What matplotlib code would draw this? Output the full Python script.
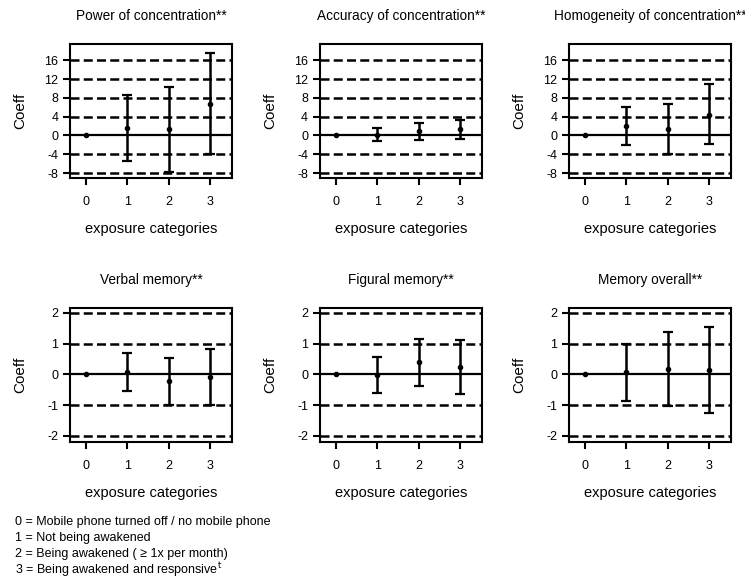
import numpy as np
import matplotlib
matplotlib.use("Agg")
import matplotlib.pyplot as plt

plt.rcParams['font.family'] = ['Liberation Sans', 'DejaVu Sans']
plt.rcParams['axes.unicode_minus'] = False

categories = [0, 1, 2, 3]

titles = ["Power of concentration**", "Accuracy of concentration**",
          "Homogeneity of concentration**", "Verbal memory**",
          "Figural memory**", "Memory overall**"]

# point estimates and confidence limits per exposure category
coef = [[0, 1.56, 1.3, 6.75],
        [0, 0.15, 0.85, 1.3],
        [0, 1.9, 1.3, 4.4],
        [0, 0.08, -0.22, -0.09],
        [0, -0.02, 0.4, 0.25],
        [0, 0.08, 0.18, 0.15]]
lower = [[0, -5.5, -7.7, -4.0],
         [0, -1.2, -0.9, -0.85],
         [0, -2.1, -4.05, -1.85],
         [0, -0.53, -1.0, -1.0],
         [0, -0.6, -0.37, -0.64],
         [0, -0.86, -1.03, -1.26]]
upper = [[0, 8.5, 10.3, 17.6],
         [0, 1.56, 2.6, 3.35],
         [0, 6.1, 6.6, 10.9],
         [0, 0.69, 0.54, 0.81],
         [0, 0.58, 1.16, 1.12],
         [0, 1.0, 1.38, 1.53]]

conc_ticks = [-8, -4, 0, 4, 8, 12, 16]
mem_ticks = [-2, -1, 0, 1, 2]

legend_lines = ["0 = Mobile phone turned off / no mobile phone",
                "1 = Not being awakened",
                "2 = Being awakened ( \u2265 1x per month)",
                r"3 = Being awakened and responsive$^\mathrm{t}$"]

fig = plt.figure(figsize=(7.45, 5.81), dpi=100)

lefts = [0.094, 0.4295, 0.7638]
bottoms = [0.6936, 0.2392]
w, h = 0.2174, 0.2307

for i in range(6):
    row, col = divmod(i, 3)
    ax = fig.add_axes([lefts[col], bottoms[row], w, h])
    if row == 0:
        ticks = conc_ticks
        ax.set_ylim(-9.06, 19.45)
    else:
        ticks = mem_ticks
        ax.set_ylim(-2.2, 2.16)
    ax.set_xlim(-0.39, 3.53)

    for t in ticks:
        if t == 0:
            ax.axhline(0, color='black', lw=1.6, zorder=1)
        else:
            ax.axhline(t, color='black', lw=1.8, ls=(0, (3.6, 1.7)), zorder=1)

    c = np.array(coef[i])
    lo = np.array(lower[i])
    hi = np.array(upper[i])
    ax.errorbar(categories[1:], c[1:], yerr=[c[1:] - lo[1:], hi[1:] - c[1:]],
                fmt='none', ecolor='black', elinewidth=1.8, capsize=3.5,
                capthick=1.6, zorder=3)
    ax.plot(categories, c, 'o', color='black', ms=3, zorder=4)

    ax.set_yticks(ticks)
    ax.set_xticks(categories)
    ax.tick_params(direction='out', length=5, width=1.5, labelsize=9, colors='black')
    ax.tick_params(axis='x', pad=8)
    for s in ax.spines.values():
        s.set_linewidth(1.5)

    ax.set_title(titles[i], fontsize=9.8, pad=17)
    ax.set_xlabel("exposure categories", fontsize=10.5, labelpad=10)
    ax.set_ylabel("Coeff", fontsize=11)
    ax.yaxis.set_label_coords(-0.265, 0.5)

for k, line in enumerate(legend_lines):
    fig.text(0.02, 1 - (522 + 16 * k) / 581, line, fontsize=9, va='center', ha='left')

fig.savefig("out.png", dpi=100)
